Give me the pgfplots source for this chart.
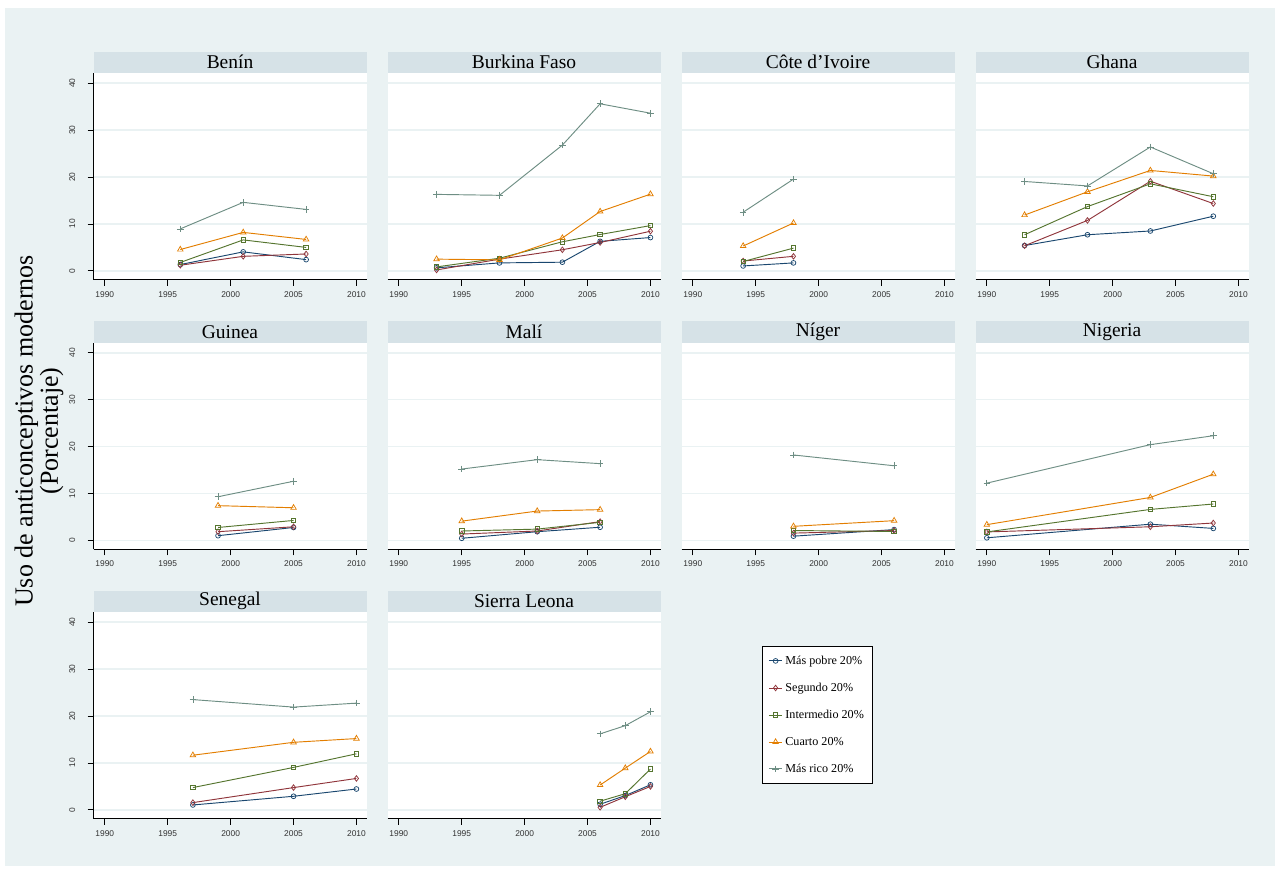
\documentclass[border=0pt]{standalone}
\usepackage{fontspec}
\setmainfont{Liberation Serif}
\newfontfamily\arialfont{Liberation Sans}
\usepackage{pgfplots}
\usepackage{pgfplotstable}
\pgfplotsset{compat=1.18}
\definecolor{bgc}{RGB}{234,242,243}
\definecolor{stripc}{RGB}{214,226,231}
\definecolor{gridc}{RGB}{234,242,243}
\definecolor{cpob}{RGB}{26,71,111}
\definecolor{cseg}{RGB}{144,53,59}
\definecolor{cint}{RGB}{85,117,47}
\definecolor{ccua}{RGB}{227,126,0}
\definecolor{cric}{RGB}{110,142,132}
\newcommand{\px}{0.75pt}

\pgfplotstableread{
year p s i c r
1996 1.35 1.2 1.8 4.55 8.95
2001 4.05 3.1 6.6 8.2 14.6
2006 2.4 3.6 5.0 6.7 13.1
}\tBenin
\pgfplotstableread{
year p s i c r
1993 0.65 0.2 0.85 2.5 16.3
1998 1.7 2.5 2.7 2.35 16.1
2003 1.85 4.5 6.2 7.0 26.8
2006 6.3 6.05 7.75 12.65 35.6
2010 7.1 8.45 9.65 16.35 33.6
}\tBurkina
\pgfplotstableread{
year p s i c r
1994 1.05 2.1 2.0 5.3 12.5
1998 1.7 3.1 4.85 10.2 19.55
}\tCote
\pgfplotstableread{
year p s i c r
1993 5.4 5.35 7.7 11.9 19.05
1998 7.7 10.75 13.7 16.85 18.1
2003 8.5 19.1 18.55 21.4 26.4
2008 11.65 14.35 15.8 20.2 20.7
}\tGhana
\pgfplotstableread{
year p s i c r
1999 1.0 1.85 2.75 7.4 9.3
2005 2.75 2.9 4.25 6.95 12.6
}\tGuinea
\pgfplotstableread{
year p s i c r
1995 0.45 1.35 2.0 4.1 15.2
2001 1.85 2.0 2.4 6.25 17.2
2006 2.8 4.0 3.85 6.55 16.35
}\tMali
\pgfplotstableread{
year p s i c r
1998 0.9 1.55 2.1 3.0 18.2
2006 2.3 2.1 1.9 4.2 15.9
}\tNiger
\pgfplotstableread{
year p s i c r
1990 0.55 1.8 1.8 3.35 12.2
2003 3.45 2.9 6.6 9.15 20.4
2008 2.55 3.7 7.75 14.1 22.3
}\tNigeria
\pgfplotstableread{
year p s i c r
1997 1.05 1.55 4.75 11.65 23.5
2005 2.9 4.75 9.05 14.4 21.9
2010 4.45 6.7 11.95 15.2 22.75
}\tSenegal
\pgfplotstableread{
year p s i c r
2006 1.2 0.55 1.85 5.3 16.2
2008 3.05 2.8 3.45 8.9 17.95
2010 5.35 5.0 8.7 12.45 20.9
}\tSierra

\pgfplotsset{
  every axis title/.style={at={(0.5,1)}, anchor=south, fill=stripc,
    minimum width=273*\px, minimum height=21.5*\px, inner sep=0pt,
    font=\fontsize{14.6}{16}\selectfont},
  panel/.style={scale only axis, width=273*\px, height=206.5*\px,
    xmin=1989.1, xmax=2010.8, ymin=-1.9, ymax=42.1, anchor=north west,
    axis background/.style={fill=white},
    axis x line*=bottom, axis y line*=left,
    axis line style={-, black, line width=0.8pt},
    xtick={1990,1995,2000,2005,2010}, ytick={0,10,20,30,40},
    ymajorgrids, major grid style={draw=gridc, line width=1.3pt},
    tick align=outside, major tick length=4.5pt,
    tick style={black, line width=0.6pt},
    ticklabel style={font=\arialfont\fontsize{6.3}{7}\selectfont, text=black!80},
    /pgf/number format/assume math mode=true,
    /pgf/number format/1000 sep={},
    xticklabel style={yshift=-0.8pt},
    yticklabel style={rotate=90, anchor=south, inner ysep=9pt},
    clip=false,
    legend image code/.code={\draw[mark repeat=2,mark phase=2] plot coordinates {(0pt,0pt)(5pt,0pt)(10pt,0pt)};},
  },
  noy/.style={yticklabels={}, y axis line style={draw=none}, ytick style={draw=none}},
}

\newcommand{\panel}[5]{%
\begin{axis}[panel, at={(#1*\px,-#2*\px)}, title={#3}, #5]
 \addplot[cpob, line width=0.7pt, mark=o, mark size=1.8pt, mark options={solid, line width=0.55pt}] table[x=year,y=p] {#4};
 \addplot[cseg, line width=0.7pt, mark=diamond, mark size=2.1pt, mark options={solid, line width=0.55pt}] table[x=year,y=s] {#4};
 \addplot[cint, line width=0.7pt, mark=square, mark size=1.7pt, mark options={solid, line width=0.55pt}] table[x=year,y=i] {#4};
 \addplot[ccua, line width=0.7pt, mark=triangle, mark size=2.4pt, mark options={solid, line width=0.55pt}] table[x=year,y=c] {#4};
 \addplot[cric, line width=0.7pt, mark=+, mark size=2.5pt, mark options={solid, line width=0.55pt}] table[x=year,y=r] {#4};
\end{axis}}

\begin{document}
\begin{tikzpicture}
\fill[white] (0,0) rectangle (1280*\px,-871*\px);
\fill[bgc] (5*\px,-8*\px) rectangle (1275*\px,-866*\px);

\panel{93.5}{73.3}{Benín}{\tBenin}{}
\panel{387.5}{73.3}{Burkina Faso}{\tBurkina}{noy}
\panel{681.5}{73.3}{Côte d’Ivoire}{\tCote}{noy}
\panel{975.5}{73.3}{Ghana}{\tGhana}{noy}

\panel{93.5}{342.8}{Guinea}{\tGuinea}{}
\panel{387.5}{342.8}{Malí}{\tMali}{noy}
\panel{681.5}{342.8}{Níger}{\tNiger}{noy}
\panel{975.5}{342.8}{Nigeria}{\tNigeria}{noy}

\panel{93.5}{612.3}{Senegal}{\tSenegal}{}
\panel{387.5}{612.3}{Sierra Leona}{\tSierra}{noy,
  legend entries={Más pobre 20\%, Segundo 20\%, Intermedio 20\%, Cuarto 20\%, Más rico 20\%},
  legend cell align=left,
  legend style={at={(1.372,0.837)}, anchor=north west, draw=black, line width=0.6pt, fill=white,
    font=\fontsize{9.1}{10}\selectfont, row sep=8.5pt, inner xsep=4.5pt, inner ysep=5pt}}

\node[rotate=90, align=center, font=\fontsize{19.5}{19}\selectfont] at (39*\px,-431*\px) {Uso de anticonceptivos modernos\\(Porcentaje)};
\end{tikzpicture}
\end{document}
